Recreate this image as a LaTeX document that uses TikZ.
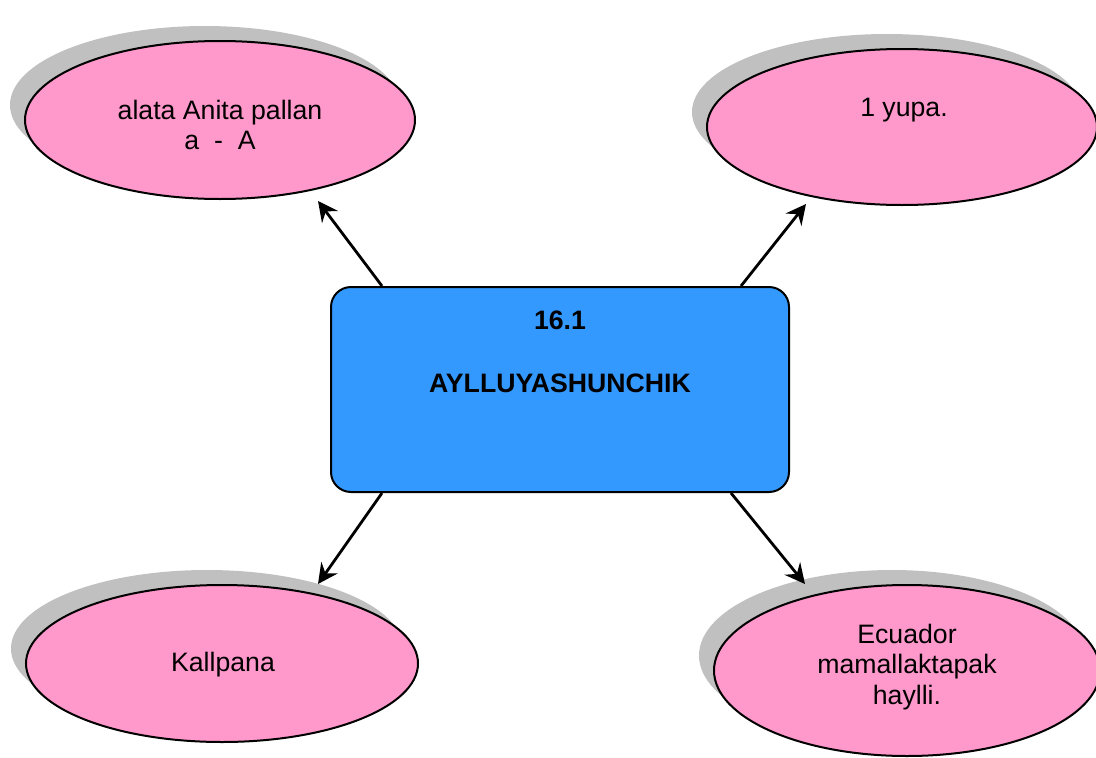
\documentclass[tikz,border=0pt]{standalone}
\usepackage{fontspec}
\setmainfont{Liberation Sans}
\usetikzlibrary{shapes.geometric,arrows.meta,shadows}
\definecolor{pinkfill}{HTML}{FF99CC}
\definecolor{bluefill}{HTML}{3399FF}
\definecolor{shadowgray}{HTML}{C0C0C0}
\tikzset{
  bubble/.style={ellipse, draw=black, line width=2pt, fill=pinkfill, inner sep=0pt,
    drop shadow={shadow xshift=-15pt, shadow yshift=15pt, fill=shadowgray, opacity=1}},
  centerbox/.style={rectangle, rounded corners=20pt, draw=black, line width=2pt, fill=bluefill,
    minimum width=458pt, minimum height=205pt, inner sep=0pt},
  txt/.style={align=center, inner sep=0pt, font=\fontsize{26.67}{30.5}\selectfont},
  boldtxt/.style={align=center, inner sep=0pt, font=\fontsize{26.67}{30.5}\selectfont\bfseries},
  arr/.style={line width=2.8pt, -{Stealth[length=20pt,width=20pt,inset=7pt]}}
}
\begin{document}
\begin{tikzpicture}[x=1pt,y=-1pt]
\useasboundingbox (0,0) rectangle (1096,758);
% ellipses
\node[bubble, minimum width=390pt, minimum height=158pt] (e1) at (220,120) {};
\node[bubble, minimum width=390pt, minimum height=156pt] (e2) at (902,127) {};
\node[bubble, minimum width=392pt, minimum height=157pt] (e3) at (222,663.5) {};
\node[bubble, minimum width=386pt, minimum height=171pt] (e4) at (907,670.5) {};
% ellipse texts
\node[txt] (l1) at (220,125) {alata Anita pallan\\a \ - \ A};
\node[txt] (l2) at (904,110) {1 yupa.};
\node[txt] (l3) at (223,665) {Kallpana};
\node[txt] (l4) at (907,667) {Ecuador\\mamallaktapak\\haylli.};
% central box
\node[centerbox] (box) at (560,389.5) {};
\node[boldtxt] (c1) at (560,320) {16.1};
\node[boldtxt] (c2) at (560,383) {AYLLUYASHUNCHIK};
% arrows
\draw[arr] ([xshift=52pt]box.north west) -- ([xshift=98pt,yshift=-1pt]e1.south);
\draw[arr] ([xshift=-49pt]box.north east) -- ([xshift=-96pt,yshift=2pt]e2.south);
\draw[arr] ([xshift=52pt]box.south west) -- ([xshift=96pt]e3.north);
\draw[arr] ([xshift=-59pt]box.south east) -- ([xshift=-102pt]e4.north);
\end{tikzpicture}
\end{document}
